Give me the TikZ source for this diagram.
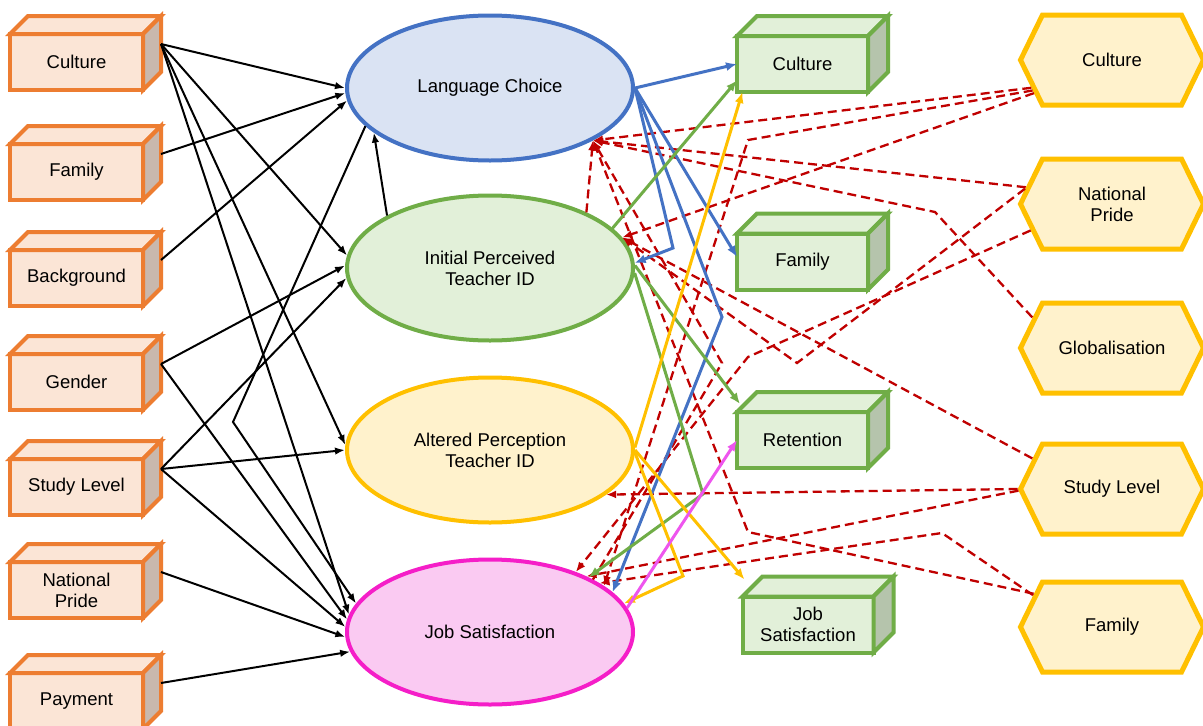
\documentclass[tikz,border=0pt]{standalone}
\usepackage{fontspec}
\setmainfont{Liberation Sans}
\usetikzlibrary{arrows.meta,shapes.geometric,shapes.symbols}
\definecolor{orgline}{HTML}{ED7D31}
\definecolor{orgfill}{HTML}{FBE5D6}
\definecolor{orgside}{HTML}{C9B8AD}
\definecolor{grnline}{HTML}{70AD47}
\definecolor{grnfill}{HTML}{E2F0D9}
\definecolor{grnside}{HTML}{B5C4AC}
\definecolor{hexline}{HTML}{FFC000}
\definecolor{hexfill}{HTML}{FFF2CC}
\definecolor{bluline}{HTML}{4472C4}
\definecolor{blufill}{HTML}{DAE3F3}
\definecolor{pnkline}{RGB}{245,30,200}
\definecolor{pnkfill}{RGB}{250,202,242}
\definecolor{magarrow}{RGB}{238,85,238}
\definecolor{redline}{HTML}{C00000}

\begin{document}
\begin{tikzpicture}[>=Latex, x=1pt, y=-1pt, line join=miter,
    every node/.style={font=\fontsize{18.5}{21}\selectfont, align=center},
    ocube/.style={draw=orgline, fill=orgfill, line width=4pt, minimum width=133pt, minimum height=56pt, inner sep=0pt, outer sep=0pt},
    gcube/.style={draw=grnline, fill=grnfill, line width=4pt, minimum width=131pt, minimum height=56pt, inner sep=0pt, outer sep=0pt},
    blob/.style={ellipse, line width=4pt, minimum width=286pt, minimum height=145pt, inner sep=0pt},
    hexa/.style={signal, signal to=west and east, signal pointer angle=128, draw=hexline, fill=hexfill, line width=5pt, minimum width=183pt, minimum height=90pt, inner sep=0pt},
    blk/.style={-{Latex[length=10pt,width=7.5pt]}, line width=2pt, black},
    col/.style={-{Latex[length=11pt,width=9pt]}, line width=3pt, draw=#1},
    rdash/.style={-{Latex[length=10pt,width=8pt]}, line width=2.3pt, redline, dash pattern=on 9pt off 5pt}]
    \path[use as bounding box] (0,0) rectangle (1203,726);
    \fill[white] (0,0) rectangle (1203,726);
    \foreach \n/\y/\t in {c1/62/Culture, c2/172/Family, c3/278/Background, c4/382/Gender, c5/487/Study Level, c6/590/{National\\Pride}, c7/701/Payment} {
        \node[ocube] (\n) at (76.5,\y) {\t};
        \filldraw[draw=orgline, fill=orgfill, line width=4pt] (\n.north west) -- ([shift={(18,-18)}]\n.north west) -- ([shift={(18,-18)}]\n.north east) -- (\n.north east) -- cycle;
        \filldraw[draw=orgline, fill=orgside, line width=4pt] (\n.north east) -- ([shift={(18,-18)}]\n.north east) -- ([shift={(18,-18)}]\n.south east) -- (\n.south east) -- cycle;
        \coordinate (\n-o) at ([shift={(18,-18)}]\n.east);
    }
    \foreach \n/\x/\y/\t in {g1/802.5/64/Culture, g2/802.5/261.5/Family, g3/802.5/440/Retention, g4/808/624.5/{Job\\Satisfaction}} {
        \node[gcube] (\n) at (\x,\y) {\t};
        \filldraw[draw=grnline, fill=grnfill, line width=4pt] (\n.north west) -- ([shift={(20,-20)}]\n.north west) -- ([shift={(20,-20)}]\n.north east) -- (\n.north east) -- cycle;
        \filldraw[draw=grnline, fill=grnside, line width=4pt] (\n.north east) -- ([shift={(20,-20)}]\n.north east) -- ([shift={(20,-20)}]\n.south east) -- (\n.south east) -- cycle;
    }
    \node[blob, draw=bluline, fill=blufill] (lc) at (490,88) {Language Choice};
    \node[blob, draw=grnline, fill=grnfill] (ip) at (490,268) {Initial Perceived\\Teacher ID};
    \node[blob, draw=hexline, fill=hexfill] (ap) at (490,450) {Altered Perception\\Teacher ID};
    \node[blob, draw=pnkline, fill=pnkfill] (js) at (490,632) {Job Satisfaction};
    \node[hexa] (h1) at (1112,60) {Culture};
    \node[hexa] (h2) at (1112,204) {National\\Pride};
    \node[hexa] (h3) at (1112,348) {Globalisation};
    \node[hexa] (h4) at (1112,489) {Study Level};
    \node[hexa] (h5) at (1112,627) {Family};

    \draw[rdash] (h1.199) -- (lc.333);
    \draw[rdash] (h1.201) -- (748,140) -- (js.22);
    \draw[rdash] (h1.203) -- (ip.13);
    \draw[rdash] (h2.169) -- (lc.333);
    \draw[rdash] (h2.170) -- (797,363) -- (ip.13);
    \draw[rdash] (h2.198) -- (748,357) -- (js.35);
    \draw[rdash] (h3.159) -- (935,212) -- (lc.333);
    \draw[rdash] (h4.159) -- (ip.13);
    \draw[rdash] (h4.west) -- (ap.339);
    \draw[rdash] (h4.181) -- (js.30);
    \draw[rdash] (h5.157) -- (748,532) -- (lc.333);
    \draw[rdash] (h5.158) -- (942,533) -- (880,542) -- (js.24);
    \draw[rdash] (ip.30) -- (lc.333);
    \draw[rdash] (js.27) -- (722,363) -- (lc.333);

    \draw[col=bluline] (lc.east) -- (g1.west);
    \draw[col=bluline] (lc.east) -- (g2.176);
    \draw[col=bluline] (lc.east) -- (673,248) -- (ip.2);
    \draw[col=bluline] (lc.east) -- (722,317) -- (js.18);
    \draw[col=grnline] (ip.18) -- (g1.194);
    \draw[col=grnline] (ip.1) -- ([shift={(3,-8)}]g3.north west);
    \draw[col=grnline] (ip.358) -- (703,494) -- (js.29);
    \draw[col=hexline] (ap.1) -- (g1.205);
    \draw[col=hexline] (ap.0) -- ([shift={(2,-17)}]g4.north west);
    \draw[col=hexline] (ap.359) -- (683,576) -- (js.12);
    \draw[col=magarrow] (js.10) -- (g3.west);

    \draw[blk] (c1-o) -- (lc.west);
    \draw[blk] (c1-o) -- (ip.175);
    \draw[blk] (c1-o) -- (ap.178);
    \draw[blk] (c1-o) -- (js.173);
    \draw[blk] (c2-o) -- (lc.182);
    \draw[blk] (c3-o) -- (lc.185);
    \draw[blk] (c4-o) -- (ip.179);
    \draw[blk] (c4-o) -- (js.175);
    \draw[blk] (c5-o) -- (ip.184);
    \draw[blk] (c5-o) -- (ap.180);
    \draw[blk] (c5-o) -- (js.178);
    \draw[blk] (c6-o) -- (js.182);
    \draw[blk] (c7-o) -- (js.188);
    \draw[blk] (lc.197) -- (233,422) -- (js.168);
    \draw[blk] (ip.153) -- (lc.201);
\end{tikzpicture}
\end{document}
